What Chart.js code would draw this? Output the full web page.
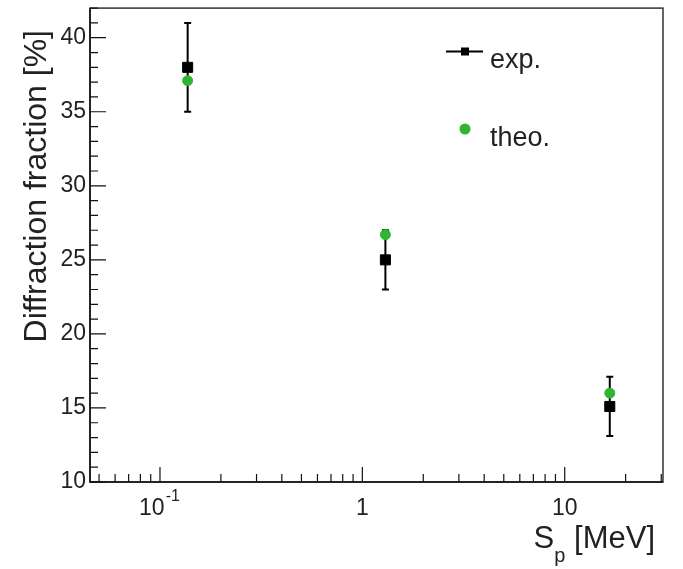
<!DOCTYPE html>
<html><head><meta charset="utf-8">
<script src="https://cdn.jsdelivr.net/npm/chart.js@4/dist/chart.umd.min.js"></script>
<style>html,body{margin:0;padding:0;background:#fff;}#wrap{width:683px;height:569px;}</style>
</head><body><div id="wrap"><canvas id="c" width="683" height="569"></canvas></div>
<script>
// ---- data ----
const sp = [0.137, 1.3, 16.7];            // S_p [MeV]
const expFrac = [38.0, 25.0, 15.1];       // exp. diffraction fraction [%]
const expErr = [3.0, 2.0, 2.0];           // exp. error [%]
const theoFrac = [37.1, 26.7, 16.0];      // theo. diffraction fraction [%]
const xMajorTicks = [0.1, 1, 10];
const xMajorLabels = [['10', '-1'], ['1', ''], ['10', '']];
const yTicks = [10, 15, 20, 25, 30, 35, 40];
const seriesNames = ['exp.', 'theo.'];
const xTitleParts = ['S', 'p', '[MeV]'];
const yTitle = 'Diffraction fraction [%]';

const GREEN = '#2fb52f';
const FONT = '"Liberation Sans", Arial, Helvetica, sans-serif';

const rootStyle = {
  id: 'rootStyle',
  beforeDatasetsDraw(chart) {
    const ctx = chart.ctx, xs = chart.scales.x, ys = chart.scales.y;
    ctx.save();
    ctx.strokeStyle = '#000';
    ctx.lineWidth = 2;
    for (let i = 0; i < sp.length; i++) {
      const px = xs.getPixelForValue(sp[i]);
      const y1 = ys.getPixelForValue(expFrac[i] - expErr[i]);
      const y2 = ys.getPixelForValue(expFrac[i] + expErr[i]);
      ctx.beginPath();
      ctx.moveTo(px, y1); ctx.lineTo(px, y2);
      ctx.moveTo(px - 3.5, y1); ctx.lineTo(px + 3.5, y1);
      ctx.moveTo(px - 3.5, y2); ctx.lineTo(px + 3.5, y2);
      ctx.stroke();
    }
    ctx.restore();
  },
  afterDraw(chart) {
    const ctx = chart.ctx, xs = chart.scales.x, ys = chart.scales.y;
    const a = chart.chartArea;
    ctx.save();
    // frame
    ctx.strokeStyle = '#333';
    ctx.lineWidth = 1.5;
    ctx.strokeRect(a.left, a.top, a.right - a.left, a.bottom - a.top);
    ctx.strokeStyle = '#111';
    ctx.lineWidth = 1.5;
    ctx.beginPath();
    ctx.moveTo(a.left, a.top); ctx.lineTo(a.left, a.bottom); ctx.lineTo(a.right, a.bottom);
    ctx.stroke();
    // x ticks (log)
    ctx.lineWidth = 1.2;
    ctx.beginPath();
    for (let d = -2; d <= 2; d++) {
      for (let m = 1; m <= 9; m++) {
        const v = m * Math.pow(10, d);
        if (v < xs.min || v > xs.max) continue;
        const px = xs.getPixelForValue(v);
        const len = (m === 1) ? 15 : 8;
        ctx.moveTo(px, a.bottom); ctx.lineTo(px, a.bottom - len);
      }
    }
    // y ticks
    for (let v = Math.ceil(ys.min); v <= ys.max; v++) {
      const py = ys.getPixelForValue(v);
      const len = (v % 5 === 0) ? 16 : 8;
      ctx.moveTo(a.left, py); ctx.lineTo(a.left + len, py);
    }
    ctx.stroke();
    // x tick labels
    ctx.fillStyle = '#222';
    ctx.textBaseline = 'alphabetic';
    xMajorTicks.forEach((v, i) => {
      const px = xs.getPixelForValue(v);
      const [base, sup] = xMajorLabels[i];
      ctx.font = '23px ' + FONT;
      const bw = ctx.measureText(base).width;
      ctx.font = '16px ' + FONT;
      const sw = sup ? ctx.measureText(sup).width : 0;
      const start = px - (bw + sw) / 2 + (sup ? -1 : 0);
      ctx.font = '23px ' + FONT;
      ctx.textAlign = 'left';
      ctx.fillText(base, start, 515);
      if (sup) {
        ctx.font = '16px ' + FONT;
        ctx.fillText(sup, start + bw + 1, 501);
      }
    });
    // x title
    ctx.textAlign = 'right';
    ctx.font = '31px ' + FONT;
    ctx.fillText(xTitleParts[2], 655, 548);
    const wb = ctx.measureText(xTitleParts[2]).width;
    const spaceW = ctx.measureText(' ').width;
    ctx.font = '20px ' + FONT;
    const pRight = 655 - wb - spaceW;
    ctx.fillText(xTitleParts[1], pRight, 562);
    const pw = ctx.measureText(xTitleParts[1]).width;
    ctx.font = '31px ' + FONT;
    ctx.fillText(xTitleParts[0], pRight - pw, 548);
    // y title
    ctx.save();
    ctx.translate(46, 30);
    ctx.rotate(-Math.PI / 2);
    ctx.textAlign = 'right';
    ctx.font = '32px ' + FONT;
    ctx.fillText(yTitle, 0, 0);
    ctx.restore();
    // legend
    ctx.strokeStyle = '#000';
    ctx.lineWidth = 2;
    ctx.beginPath();
    ctx.moveTo(446, 51.5); ctx.lineTo(483, 51.5);
    ctx.stroke();
    ctx.fillStyle = '#000';
    ctx.fillRect(461, 47.5, 8, 8);
    ctx.fillStyle = GREEN;
    ctx.beginPath();
    ctx.arc(465, 129, 5.5, 0, Math.PI * 2);
    ctx.fill();
    ctx.fillStyle = '#222';
    ctx.textAlign = 'left';
    ctx.font = '27px ' + FONT;
    ctx.fillText(seriesNames[0], 490, 68);
    ctx.fillText(seriesNames[1], 490, 146);
    ctx.restore();
  }
};

new Chart(document.getElementById('c'), {
  type: 'scatter',
  data: {
    datasets: [
      {
        label: seriesNames[1],
        data: sp.map((x, i) => ({ x, y: theoFrac[i] })),
        pointStyle: 'circle',
        pointRadius: 5,
        pointBorderWidth: 1,
        backgroundColor: GREEN,
        borderColor: GREEN,
        showLine: false,
        order: 0
      },
      {
        label: seriesNames[0],
        data: sp.map((x, i) => ({ x, y: expFrac[i] })),
        pointStyle: 'rect',
        pointRadius: 7.1,
        pointBorderWidth: 1,
        backgroundColor: '#000',
        borderColor: '#000',
        showLine: false,
        order: 1
      }
    ]
  },
  options: {
    responsive: false,
    animation: false,
    devicePixelRatio: 1,
    layout: { padding: { left: 0, top: 4, right: 20, bottom: 0 } },
    plugins: { legend: { display: false }, tooltip: { enabled: false } },
    scales: {
      x: {
        type: 'logarithmic',
        min: 0.0451,
        max: 30.6,
        grid: { display: false, drawTicks: false },
        border: { display: false },
        ticks: { display: false },
        afterFit: s => { s.height = 87; s.paddingLeft = 0; s.paddingRight = 0; }
      },
      y: {
        type: 'linear',
        min: 10,
        max: 42,
        grid: { display: false, drawTicks: false },
        border: { display: false },
        afterBuildTicks: s => { s.ticks = yTicks.map(v => ({ value: v })); },
        ticks: {
          color: '#222',
          padding: 4,
          font: { size: 23, family: FONT },
          callback: v => String(v)
        },
        afterFit: s => { s.width = 90; s.paddingTop = 0; s.paddingBottom = 0; }
      }
    }
  },
  plugins: [rootStyle]
});
</script>
</body></html>
